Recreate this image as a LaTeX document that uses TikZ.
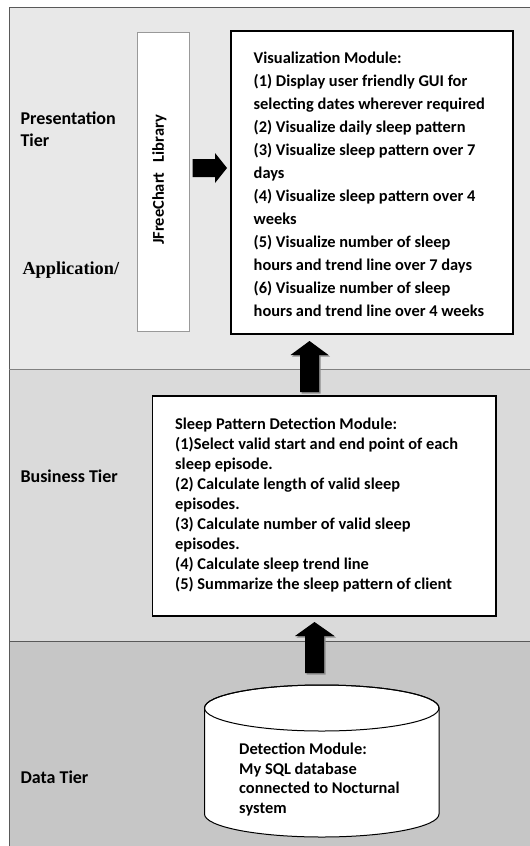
\documentclass[tikz,border=0pt]{standalone}
\usepackage{fontspec}
\setmainfont{Carlito}
\newfontfamily\timesfont{Liberation Serif}
\begin{document}
\begin{tikzpicture}[x=1pt,y=-1pt,
  tierlabel/.style={font=\bfseries\fontsize{18}{22}\selectfont, inner sep=0pt, align=left},
  modtext/.style={font=\bfseries\fontsize{16.4}{20}\selectfont, inner sep=0pt, align=left, anchor=north west},
  blockarrow/.style={fill=black},
  arrowshadow/.style={fill=black!45},
]
\useasboundingbox (0,0) rectangle (530,846);
\fill[white] (0,0) rectangle (530,846);
% tier bands
\fill[fill={rgb,255:red,232;green,232;blue,232}] (9,7) rectangle (530,369);
\fill[fill={rgb,255:red,218;green,218;blue,218}] (9,369) rectangle (530,641);
\fill[fill={rgb,255:red,198;green,198;blue,198}] (9,641) rectangle (530,846);
\draw[black!65, line width=1pt] (530,7) -- (9,7) -- (9,846);
\draw[black!50, line width=1pt] (9,369) -- (530,369);
\draw[black!65, line width=1pt] (9,641) -- (530,641);

% tier labels
\node[tierlabel, anchor=north west] (pres) at (20.3,112) {Presentation\\Tier};
\node[inner sep=0pt, anchor=base west, font=\timesfont\bfseries\fontsize{18.3}{22}\selectfont] (appl) at (22.3,274) {Application/};
\node[tierlabel, anchor=base west] (bus) at (20.3,482) {Business Tier};
\node[tierlabel, anchor=base west] (data) at (20.3,783) {Data Tier};

% JFreeChart library box
\node[draw=black!40, fill=white, line width=0.8pt, minimum width=52pt, minimum height=299pt, inner sep=0pt] (jfc) at (163,181.5) {};
\node[rotate=90, inner sep=0pt, font=\bfseries\fontsize{16.5}{20}\selectfont] (jfclab) at (159.5,180) {JFreeChart\hspace{10pt}Library};

% Visualization module
\node[draw=black, fill=white, line width=2.2pt, minimum width=282pt, minimum height=303pt, inner sep=0pt] (vis) at (372,182.5) {};
\node[modtext, font=\bfseries\fontsize{16.4}{23}\selectfont] (vistext) at (253.5,52) {Visualization Module:\\
(1) Display user friendly GUI for\\
selecting dates wherever required\\
(2) Visualize daily sleep pattern\\
(3) Visualize sleep pattern over 7\\
days\\
(4) Visualize sleep pattern over 4\\
weeks\\
(5) Visualize number of sleep\\
hours and trend line over 7 days\\
(6) Visualize number of sleep\\
hours and trend line over 4 weeks};

% Sleep pattern detection module
\node[draw=black, fill=white, line width=1.5pt, minimum width=343.5pt, minimum height=220pt, inner sep=0pt] (biz) at (324.25,506) {};
\node[modtext] (biztext) at (175,418) {Sleep Pattern Detection Module:\\
(1)Select valid start and end point of each\\
sleep episode.\\
(2) Calculate length of valid sleep\\
episodes.\\
(3) Calculate number of valid sleep\\
episodes.\\
(4) Calculate sleep trend line\\
(5) Summarize the sleep pattern of client};

% Database cylinder
\coordinate (dbtop) at (321.75,708);
\filldraw[fill=white, draw=black, line width=1pt] (204.5,708) -- (204.5,814)
  arc[start angle=180, end angle=360, x radius=117.25pt, y radius=23pt] -- (439,708)
  arc[start angle=0, end angle=180, x radius=117.25pt, y radius=23pt] -- cycle;
\draw[black, line width=1pt] (dbtop) ellipse[x radius=117.25pt, y radius=23pt];
\node[modtext, font=\bfseries\fontsize{16.4}{19.5}\selectfont] (dbtext) at (239,743) {Detection Module:\\
My SQL database\\
connected to Nocturnal\\
system};

% right block arrow (JFreeChart -> Visualization)
\fill[blockarrow] (192.5,159) -- (215,159) -- (215,153) -- (227,168) -- (215,183) -- (215,177) -- (192.5,177) -- cycle;

% up block arrow (Business -> Visualization)
\fill[arrowshadow] (311,342.5) -- (330,356.5) -- (320.5,356.5) -- (320.5,393.5) -- (301.5,393.5) -- (301.5,356.5) -- (292,356.5) -- cycle;
\fill[blockarrow] (309.5,341) -- (328.5,355) -- (319,355) -- (319,392) -- (300,392) -- (300,355) -- (290.5,355) -- cycle;

% up block arrow (Data -> Business)
\fill[arrowshadow] (316,623.5) -- (336,637.5) -- (325.5,637.5) -- (325.5,674.5) -- (306.5,674.5) -- (306.5,637.5) -- (296.5,637.5) -- cycle;
\fill[blockarrow] (314.5,622) -- (334.5,636) -- (324,636) -- (324,673) -- (305,673) -- (305,636) -- (295,636) -- cycle;
\end{tikzpicture}
\end{document}
